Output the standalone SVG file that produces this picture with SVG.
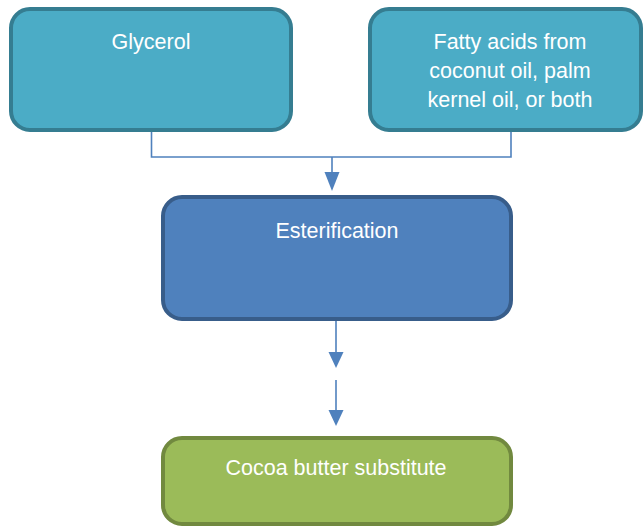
<svg xmlns="http://www.w3.org/2000/svg" width="644" height="527" viewBox="0 0 644 527">
<style>
.lbl{font-family:"Liberation Sans",Arial,sans-serif;font-size:21.5px;fill:#ffffff;text-anchor:middle}
.teal{fill:#4BACC6;stroke:#357D91;stroke-width:4}
.blue{fill:#4F81BD;stroke:#385D8A;stroke-width:4}
.green{fill:#9BBB59;stroke:#71893F;stroke-width:4}
.conn{fill:none;stroke:#4F81BD;stroke-width:1.6}
.head{fill:#4F81BD}
</style>
<rect width="644" height="527" fill="#ffffff"/>
<g id="connectors">
<path class="conn" d="M151.5 132 V157 H511 V132"/>
<path class="conn" d="M332 157 V174"/>
<polygon class="head" points="324.5,172 339.5,172 332,191"/>
<path class="conn" d="M336 321 V353"/>
<polygon class="head" points="328.5,352 343.5,352 336,368"/>
<path class="conn" d="M336 380 V411"/>
<polygon class="head" points="328.5,410 343.5,410 336,426"/>
</g>
<g id="glycerol">
<rect class="teal" x="11" y="9" width="280" height="121" rx="19"/>
<text class="lbl" x="151" y="49">Glycerol</text>
</g>
<g id="fatty-acids">
<rect class="teal" x="370" y="9" width="271" height="121" rx="19"/>
<text class="lbl" x="510" y="49">Fatty acids from</text>
<text class="lbl" x="510" y="78">coconut oil, palm</text>
<text class="lbl" x="510" y="107">kernel oil, or both</text>
</g>
<g id="esterification">
<rect class="blue" x="163" y="197" width="348" height="122" rx="19"/>
<text class="lbl" x="337" y="238">Esterification</text>
</g>
<g id="cocoa-butter-substitute">
<rect class="green" x="163" y="438" width="348" height="86" rx="19"/>
<text class="lbl" x="336" y="475">Cocoa butter substitute</text>
</g>
</svg>
